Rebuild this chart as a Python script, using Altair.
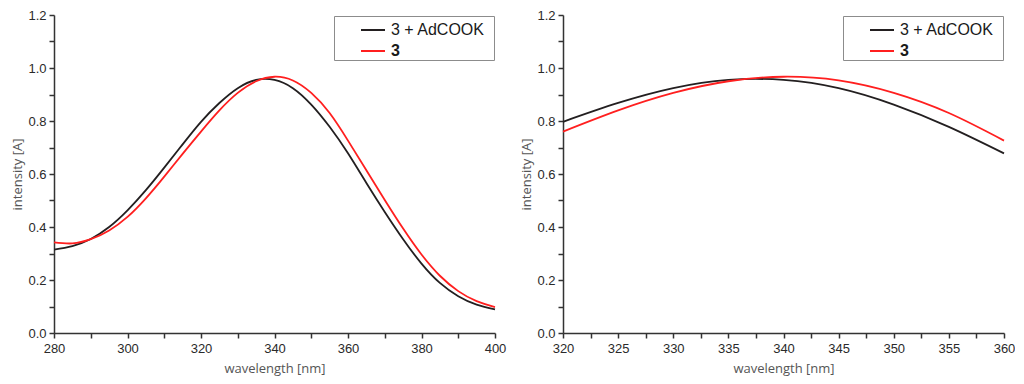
import altair as alt
import pandas as pd

wavelength = [280, 285, 290, 295, 300, 305, 310, 315, 320, 325, 330, 335, 340,
              345, 350, 355, 360, 365, 370, 375, 380, 385, 390, 395, 400]
with_adcook = [0.315, 0.328, 0.355, 0.400, 0.463, 0.539, 0.624, 0.712, 0.797, 0.868,
               0.924, 0.955, 0.955, 0.924, 0.862, 0.778, 0.678, 0.566, 0.457, 0.354,
               0.262, 0.189, 0.139, 0.107, 0.089]
pure_3 = [0.342, 0.338, 0.354, 0.387, 0.438, 0.508, 0.590, 0.676, 0.760, 0.840,
          0.906, 0.950, 0.967, 0.953, 0.906, 0.830, 0.726, 0.614, 0.502, 0.394,
          0.296, 0.216, 0.158, 0.120, 0.098]
series_names = ["3 + AdCOOK", "3"]
series_colors = ["#231f20", "#ff1f1f"]

y_ticks = [round(i * 0.1, 1) for i in range(13)]
x_ticks_left = list(range(280, 401, 10))
x_ticks_right = [320 + 2.5 * i for i in range(17)]

rows = []
for w, a, b in zip(wavelength, with_adcook, pure_3):
    rows.append({"wavelength": w, "intensity": a, "series": series_names[0]})
    rows.append({"wavelength": w, "intensity": b, "series": series_names[1]})
df = pd.DataFrame(rows)

LABEL_FONT = "Liberation Sans"
TITLE_FONT = "Open Sans"


def panel(xmin, xmax, xticks, major):
    sub = df[(df.wavelength >= xmin) & (df.wavelength <= xmax)]
    return alt.Chart(sub).mark_line(strokeWidth=1.8, interpolate="natural").encode(
        x=alt.X("wavelength:Q",
                scale=alt.Scale(domain=[xmin, xmax], nice=False, zero=False),
                axis=alt.Axis(values=xticks, title="wavelength [nm]",
                              labelExpr=f"datum.value % {major} == 0 ? datum.label : ''",
                              labelFlush=False, labelOverlap=False, grid=False,
                              labelPadding=4, titlePadding=7)),
        y=alt.Y("intensity:Q",
                scale=alt.Scale(domain=[0, 1.2], nice=False, zero=True),
                axis=alt.Axis(values=y_ticks, title="intensity [A]",
                              labelExpr="round(datum.value * 10) % 2 == 0 ? format(datum.value, '.1f') : ''",
                              labelOverlap=False, grid=False)),
        color=alt.Color("series:N",
                        scale=alt.Scale(domain=series_names, range=series_colors),
                        sort=series_names,
                        legend=alt.Legend(title="\u00a0", titleOrient="right", titlePadding=8,
                                          titleFontSize=4,
                                          orient="top-right", offset=1,
                                          strokeColor="#8c8c8c", fillColor="white",
                                          padding=1, symbolType="stroke", symbolSize=576,
                                          symbolStrokeWidth=2, symbolOffset=25,
                                          labelOffset=5, labelFontSize=16,
                                          labelFont=LABEL_FONT, labelColor="#1a1a1a",
                                          rowPadding=0,
                                          labelFontWeight={"expr": "datum.value == '3' ? 'bold' : 'normal'"})),
    ).properties(width=441, height=318)


left = panel(280, 400, x_ticks_left, 20)
right = panel(320, 360, x_ticks_right, 5)

chart = alt.hconcat(left, right, spacing=14).resolve_scale(color="independent").resolve_legend(
    color="independent"
).properties(padding={"left": 3, "top": 1, "right": 0, "bottom": 1}).configure_view(
    stroke=None
).configure_axis(
    domainColor="#333", domainWidth=1.5, tickColor="#333", tickWidth=1.5, tickSize=5,
    labelFont=LABEL_FONT, labelFontSize=13, labelColor="#2a2a2a", labelPadding=3,
    titleFont=TITLE_FONT, titleFontSize=13, titleColor="#555", titleFontWeight="normal",
    titlePadding=3
)

chart.save("out.html", embed_options={"renderer": "svg", "actions": False})
